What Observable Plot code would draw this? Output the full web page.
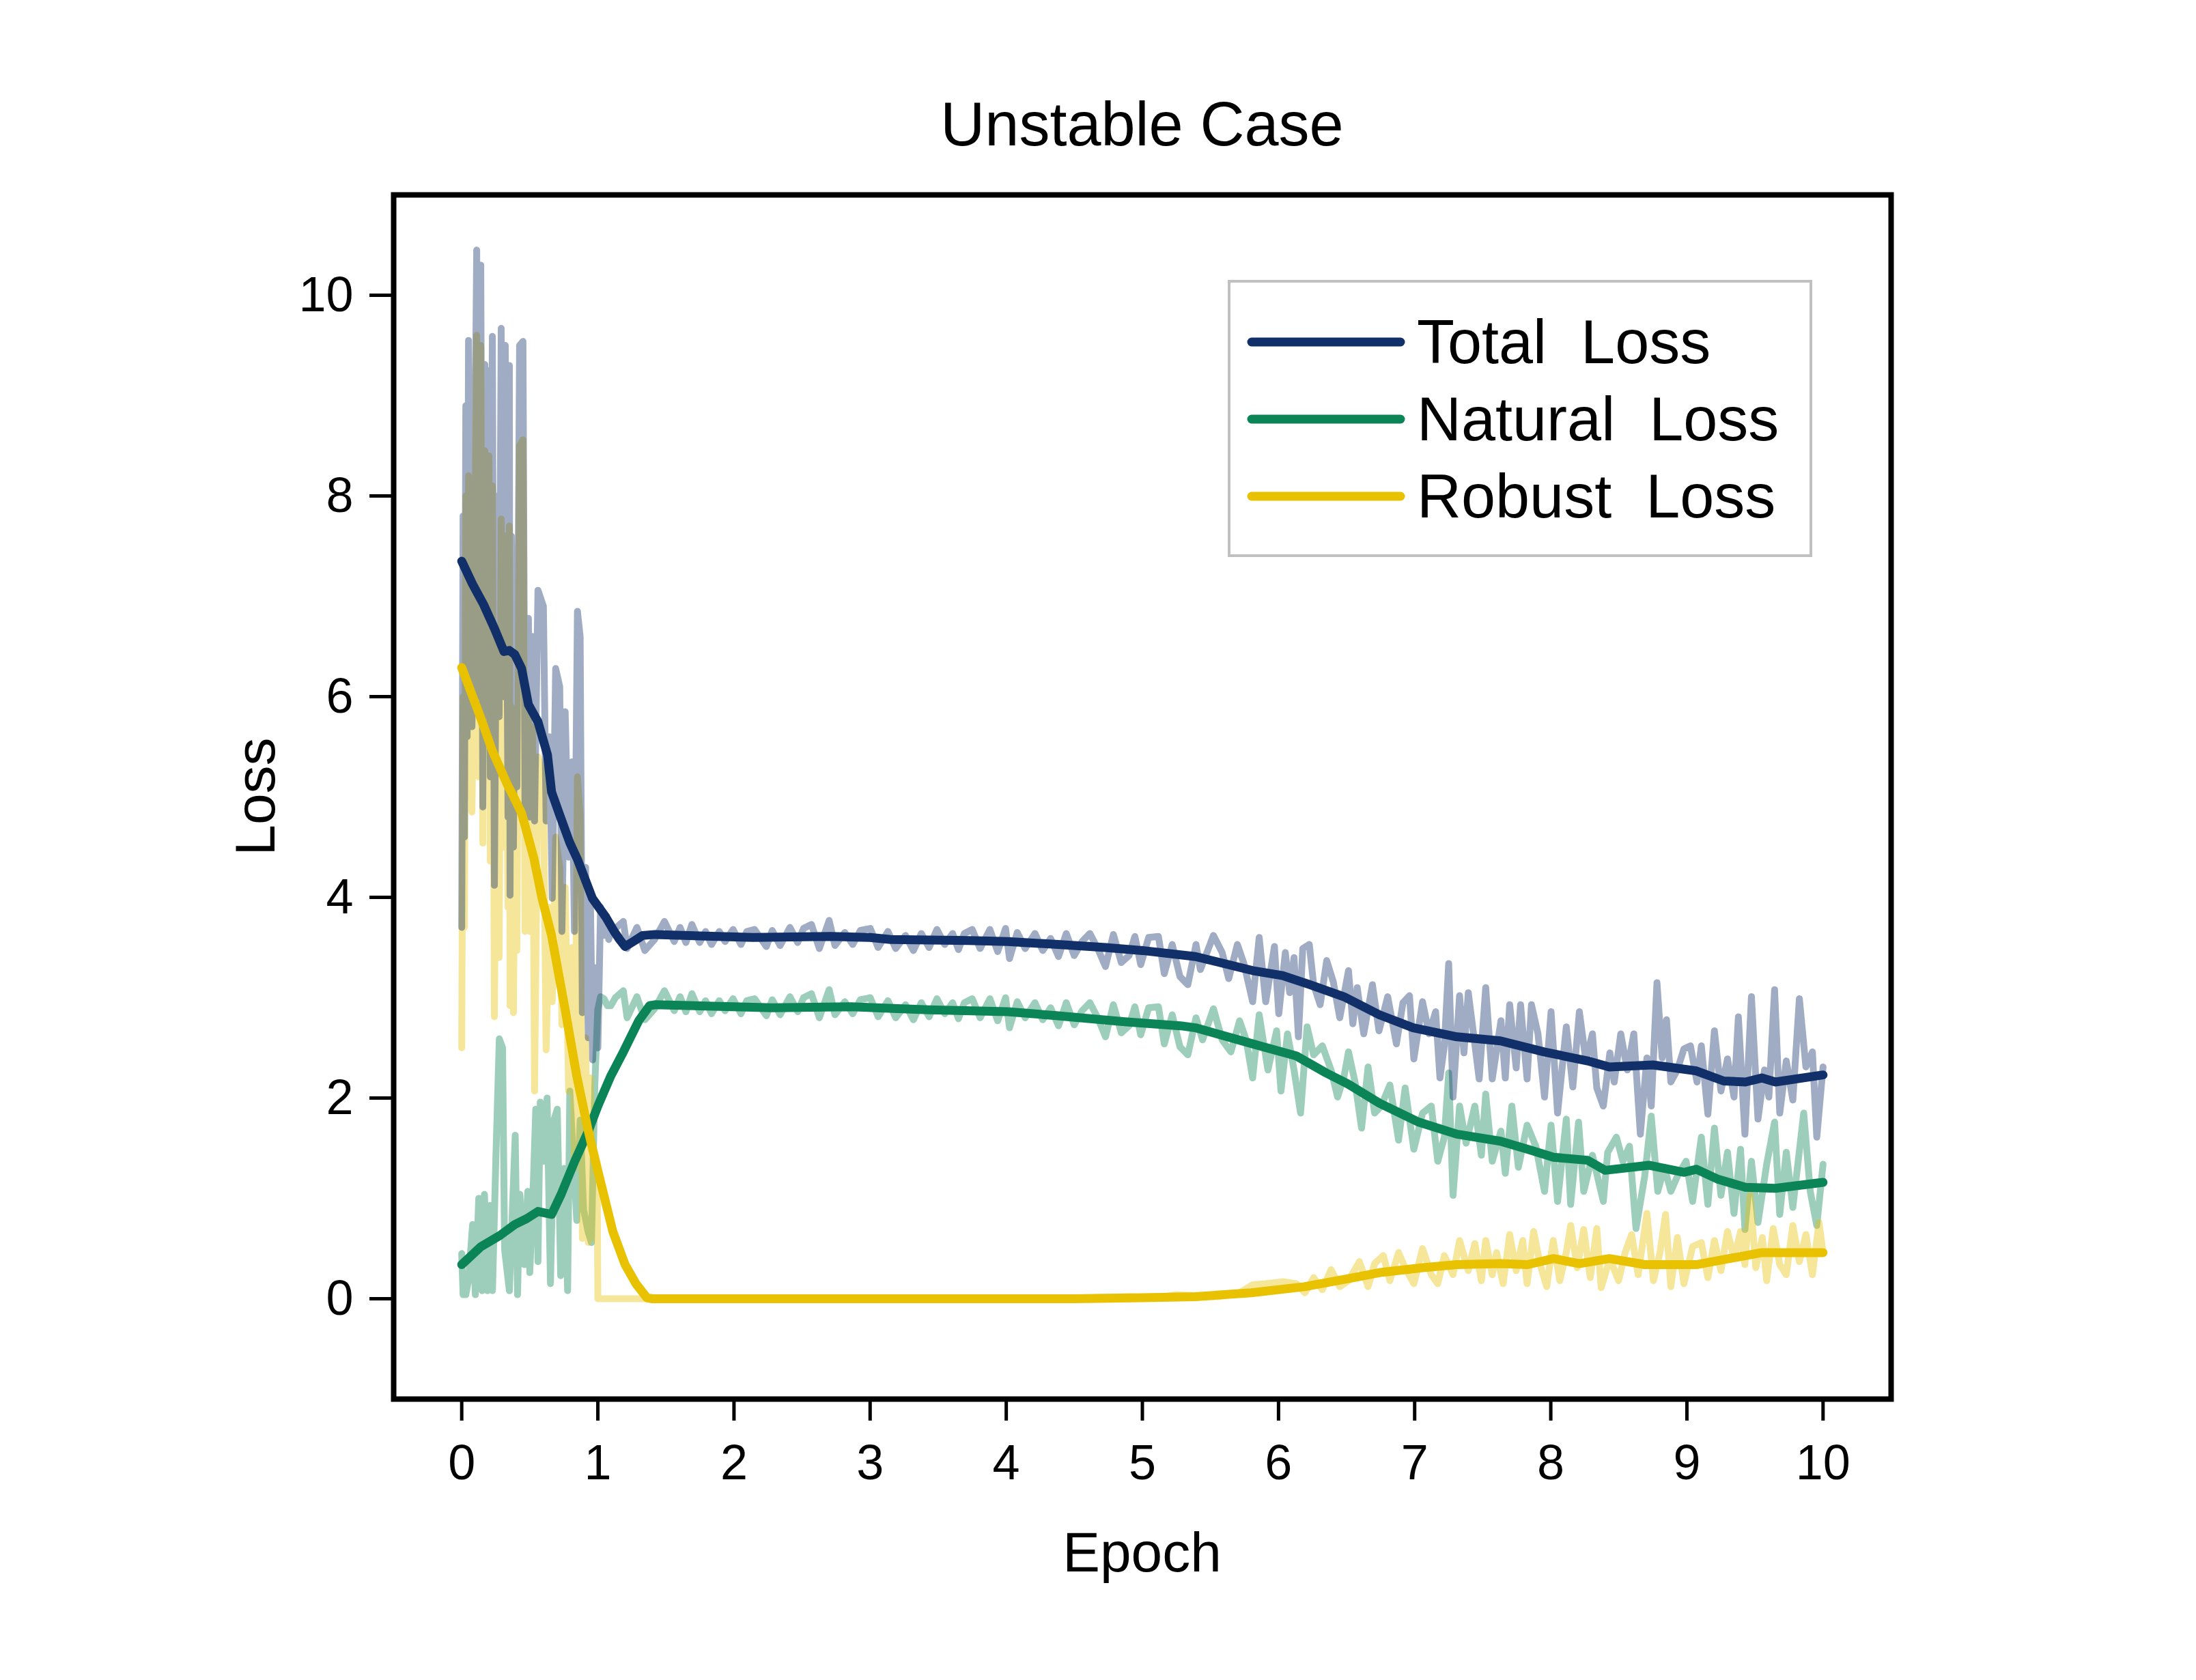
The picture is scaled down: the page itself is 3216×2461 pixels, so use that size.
<!DOCTYPE html>
<html>
<head>
<meta charset="utf-8">
<script src="https://cdn.jsdelivr.net/npm/d3@7"></script>
<script src="https://cdn.jsdelivr.net/npm/@observablehq/plot@0.6"></script>
<style>
  html, body { margin: 0; padding: 0; background: #ffffff; }
  svg text { font-family: "Liberation Sans", Arial, sans-serif; }
</style>
</head>
<body>
<div id="chart"></div>
<script>
// ---- chart data ----
const chartTitle = "Unstable Case";
const xLabel = "Epoch";
const yLabel = "Loss";
const xTicks = [0, 1, 2, 3, 4, 5, 6, 7, 8, 9, 10];
const yTicks = [0, 2, 4, 6, 8, 10];
const seriesNames = ["Total  Loss", "Natural  Loss", "Robust  Loss"];
const seriesColors = ["#11306a", "#0b8457", "#e8c100"];

// smoothed curves [epoch, loss]
const smoothTotal = [[0,7.35],[0.08,7.12],[0.16,6.92],[0.24,6.68],[0.31,6.45],[0.35,6.46],[0.39,6.42],[0.44,6.28],[0.49,5.92],[0.56,5.75],[0.63,5.42],[0.66,5.05],[0.72,4.82],[0.795,4.54],[0.85,4.38],[0.895,4.22],[0.96,3.99],[1.06,3.80],[1.12,3.66],[1.16,3.58],[1.20,3.51],[1.26,3.56],[1.33,3.62],[1.42,3.63],[2.14,3.60],[2.71,3.61],[3.0,3.60],[3.15,3.58],[3.72,3.57],[4.01,3.56],[4.38,3.53],[4.73,3.50],[5.0,3.47],[5.39,3.41],[5.81,3.27],[6.03,3.22],[6.23,3.13],[6.48,3.01],[6.74,2.83],[6.99,2.70],[7.31,2.61],[7.63,2.57],[7.95,2.46],[8.27,2.37],[8.43,2.31],[8.75,2.33],[9.07,2.27],[9.27,2.17],[9.43,2.16],[9.55,2.20],[9.65,2.16],[10.0,2.23]];
const smoothNatural = [[0,0.34],[0.142,0.52],[0.28,0.63],[0.39,0.74],[0.48,0.80],[0.56,0.87],[0.66,0.84],[0.73,1.04],[0.83,1.37],[0.93,1.67],[1.0,1.92],[1.095,2.22],[1.18,2.44],[1.30,2.77],[1.38,2.92],[1.42,2.93],[2.28,2.90],[2.86,2.91],[3.43,2.88],[4.01,2.86],[4.38,2.82],[4.87,2.76],[5.28,2.72],[5.39,2.70],[5.81,2.54],[6.13,2.42],[6.35,2.25],[6.51,2.14],[6.74,1.95],[7.03,1.76],[7.31,1.64],[7.63,1.57],[7.83,1.49],[8.02,1.41],[8.27,1.38],[8.40,1.28],[8.72,1.33],[8.98,1.26],[9.07,1.29],[9.23,1.19],[9.43,1.11],[9.65,1.10],[10.0,1.16]];
const smoothRobust = [[0,6.29],[0.142,5.78],[0.225,5.46],[0.34,5.11],[0.36,5.06],[0.44,4.84],[0.53,4.39],[0.59,3.99],[0.66,3.62],[0.76,2.88],[0.845,2.22],[0.93,1.67],[1.01,1.22],[1.11,0.67],[1.20,0.34],[1.28,0.15],[1.36,0.01],[1.4,0],[4.5,0],[5.0,0.01],[5.39,0.02],[5.8,0.06],[6.19,0.12],[6.51,0.20],[6.74,0.26],[7.06,0.31],[7.31,0.34],[7.63,0.35],[7.83,0.34],[8.02,0.40],[8.21,0.35],[8.43,0.40],[8.69,0.34],[9.07,0.34],[9.23,0.38],[9.55,0.46],[10,0.46]];

// raw (unsmoothed) curves [epoch, loss]
const rawTotal = [[0,3.7],[0.01,7.8],[0.02,4.6],[0.03,8.9],[0.04,5.6],[0.05,9.55],[0.06,7.6],[0.075,5.7],[0.09,7.4],[0.11,10.45],[0.125,6.0],[0.14,10.3],[0.155,4.9],[0.17,9.31],[0.185,7.0],[0.20,9.25],[0.21,5.2],[0.225,9.59],[0.24,4.12],[0.26,8.0],[0.275,5.8],[0.29,9.67],[0.305,6.0],[0.32,9.5],[0.34,4.8],[0.35,9.3],[0.355,4.02],[0.365,7.6],[0.38,4.5],[0.39,6.67],[0.405,5.1],[0.425,9.5],[0.45,9.54],[0.465,4.8],[0.49,6.78],[0.50,4.8],[0.52,6.6],[0.535,4.76],[0.56,7.06],[0.60,6.9],[0.62,4.76],[0.645,5.6],[0.665,3.99],[0.69,6.28],[0.72,6.1],[0.736,3.66],[0.76,5.85],[0.785,4.4],[0.81,5.35],[0.828,3.66],[0.85,6.85],[0.87,6.6],[0.886,2.85],[0.91,4.3],[0.93,2.6],[0.945,4.0],[0.962,2.38],[0.98,3.3],[1.0,2.5],[1.02,3.9],[1.04,3.62],[1.06,3.74],[1.08,3.58],[1.10,3.7],
[1.129,3.69],[1.187,3.76],[1.215,3.49],[1.287,3.70],[1.345,3.47],[1.417,3.58],[1.489,3.76],[1.561,3.56],[1.604,3.70],[1.647,3.55],[1.691,3.73],[1.748,3.55],[1.791,3.66],[1.835,3.53],[1.892,3.66],[1.935,3.56],[1.993,3.68],[2.051,3.53],[2.094,3.66],[2.151,3.68],[2.238,3.51],[2.281,3.67],[2.339,3.52],[2.411,3.70],[2.468,3.55],[2.511,3.69],[2.569,3.73],[2.627,3.49],[2.699,3.77],[2.742,3.52],[2.814,3.65],[2.872,3.53],[2.929,3.67],[3.001,3.69],[3.059,3.50],[3.131,3.66],[3.188,3.49],[3.260,3.62],[3.318,3.47],[3.376,3.64],[3.433,3.50],[3.491,3.68],[3.548,3.53],[3.606,3.64],[3.649,3.48],[3.692,3.64],[3.750,3.68],[3.808,3.49],[3.880,3.68],[3.937,3.46],[3.995,3.69],[4.024,3.39],[4.081,3.65],[4.139,3.49],[4.211,3.64],[4.268,3.47],[4.326,3.59],[4.384,3.41],[4.441,3.64],[4.499,3.42],[4.557,3.56],[4.614,3.64],[4.672,3.49],[4.729,3.31],[4.787,3.63],[4.845,3.35],[4.902,3.42],[4.945,3.61],[4.988,3.33],[5.046,3.60],[5.118,3.61],[5.161,3.24],[5.219,3.53],[5.276,3.21],[5.334,3.13],
[5.394,3.53],[5.426,3.28],[5.522,3.62],[5.586,3.45],[5.634,3.19],[5.698,3.53],[5.746,3.34],[5.810,2.96],[5.858,3.60],[5.906,2.96],[5.970,3.51],[6.002,2.84],[6.050,3.45],[6.082,3.05],[6.114,3.40],[6.146,2.61],[6.178,3.49],[6.226,3.53],[6.258,3.13],[6.306,2.93],[6.354,3.37],[6.402,3.16],[6.450,2.80],[6.514,3.27],[6.546,2.74],[6.578,3.10],[6.626,2.64],[6.690,3.13],[6.738,2.67],[6.802,3.01],[6.866,2.54],[6.914,2.95],[6.962,3.02],[6.994,2.39],[7.058,2.96],[7.106,2.64],[7.154,2.86],[7.186,2.20],[7.218,2.52],[7.250,3.34],[7.282,2.01],[7.330,3.02],[7.362,2.45],[7.394,3.05],[7.426,2.71],[7.474,2.19],[7.522,3.10],[7.570,2.19],[7.634,2.77],[7.666,2.20],[7.698,2.93],[7.746,2.30],[7.778,2.93],[7.826,2.19],[7.858,2.93],[7.906,2.64],[7.954,2.01],[8.002,2.86],[8.050,1.85],[8.114,2.71],[8.162,2.11],[8.210,2.86],[8.258,2.37],[8.306,2.64],[8.338,2.10],[8.386,1.92],[8.434,2.45],[8.466,2.16],[8.514,2.64],[8.562,2.28],[8.610,2.64],[8.658,1.64],[8.706,2.40],[8.738,1.92],[8.780,3.15],[8.818,2.40],[8.850,2.78],[8.882,2.16],[8.930,2.28],[8.978,2.49],[9.026,2.52],[9.074,2.16],[9.106,2.52],[9.154,1.84],[9.202,2.67],[9.250,2.07],[9.298,2.39],[9.346,2.01],[9.378,2.81],[9.426,1.64],[9.474,3.01],[9.522,1.79],[9.570,2.28],[9.602,2.01],[9.644,3.08],[9.682,1.85],[9.730,2.37],[9.778,1.98],[9.826,2.99],[9.874,2.31],[9.922,2.46],[9.954,1.61],[10.0,2.31]];

const rawNatural = [[0,0.45],[0.01,0.04],[0.03,0.04],[0.05,0.19],[0.08,0.74],[0.10,0.04],[0.125,1.0],[0.15,0.08],[0.167,1.04],[0.19,0.08],[0.209,0.93],[0.226,0.08],[0.251,1.41],[0.276,2.59],[0.30,2.5],[0.315,0.49],[0.35,0.08],[0.393,1.63],[0.41,0.04],[0.427,1.04],[0.46,0.34],[0.485,1.07],[0.50,0.26],[0.527,1.19],[0.544,1.89],[0.56,0.37],[0.577,1.96],[0.602,1.37],[0.627,2.0],[0.652,0.15],[0.677,1.78],[0.702,1.89],[0.727,0.23],[0.753,1.3],[0.778,0.08],[0.794,2.07],[0.82,1.41],[0.845,0.78],[0.87,1.78],[0.895,0.89],[0.928,0.67],[0.953,0.56],[0.978,2.14],[0.999,2.88],[1.02,3.01],[1.045,2.99],[1.07,2.92],[1.095,2.92],[1.129,3.0],
[1.187,3.07],[1.215,2.80],[1.287,3.01],[1.345,2.78],[1.417,2.89],[1.489,3.07],[1.561,2.87],[1.604,3.01],[1.647,2.86],[1.691,3.04],[1.748,2.86],[1.791,2.97],[1.835,2.84],[1.892,2.97],[1.935,2.87],[1.993,2.99],[2.051,2.84],[2.094,2.97],[2.151,2.99],[2.238,2.82],[2.281,2.98],[2.339,2.83],[2.411,3.01],[2.468,2.86],[2.511,3.00],[2.569,3.04],[2.627,2.80],[2.699,3.08],[2.742,2.83],[2.814,2.96],[2.872,2.84],[2.929,2.98],[3.001,3.00],[3.059,2.81],[3.131,2.97],[3.188,2.80],[3.260,2.93],[3.318,2.78],[3.376,2.95],[3.433,2.81],[3.491,2.99],[3.548,2.84],[3.606,2.95],[3.649,2.79],[3.692,2.95],[3.750,2.99],[3.808,2.80],[3.880,2.99],[3.937,2.77],[3.995,3.00],[4.024,2.70],[4.081,2.96],[4.139,2.80],[4.211,2.95],[4.268,2.78],[4.326,2.90],[4.384,2.72],[4.441,2.95],[4.499,2.73],[4.557,2.87],[4.614,2.95],[4.672,2.80],[4.729,2.61],[4.787,2.93],[4.845,2.65],[4.902,2.72],[4.945,2.91],[4.988,2.63],[5.046,2.90],[5.118,2.91],[5.161,2.54],[5.219,2.83],[5.276,2.51],[5.334,2.43],
[5.394,2.80],[5.442,2.58],[5.522,2.89],[5.586,2.58],[5.650,2.46],[5.714,2.77],[5.762,2.58],[5.810,2.20],[5.858,2.83],[5.922,2.28],[5.986,2.67],[6.018,2.07],[6.066,2.64],[6.114,2.28],[6.162,1.85],[6.210,2.71],[6.258,2.43],[6.322,2.52],[6.386,2.28],[6.434,2.01],[6.482,2.22],[6.514,2.46],[6.562,2.16],[6.610,1.70],[6.658,2.31],[6.706,1.85],[6.754,1.92],[6.818,2.13],[6.882,1.58],[6.930,2.10],[6.994,1.49],[7.058,1.85],[7.122,1.92],[7.170,1.37],[7.218,1.61],[7.250,2.25],[7.282,1.03],[7.330,1.92],[7.378,1.55],[7.442,1.92],[7.490,1.43],[7.522,2.04],[7.570,1.37],[7.634,1.67],[7.666,1.25],[7.714,1.92],[7.762,1.31],[7.826,1.73],[7.890,1.52],[7.954,1.07],[8.002,1.73],[8.050,0.97],[8.114,1.79],[8.146,0.94],[8.204,1.76],[8.242,1.07],[8.306,1.43],[8.386,0.97],[8.418,1.46],[8.482,1.61],[8.530,1.37],[8.578,1.52],[8.626,0.70],[8.690,1.22],[8.738,1.82],[8.786,1.07],[8.834,1.31],[8.882,1.07],[8.930,1.22],[8.994,1.37],[9.042,0.97],[9.106,1.61],[9.154,0.94],[9.202,1.70],[9.250,1.03],[9.298,1.46],[9.346,0.85],[9.394,1.49],[9.426,0.69],[9.474,1.37],[9.522,0.76],[9.586,1.34],[9.644,1.76],[9.682,0.84],[9.730,1.46],[9.778,0.91],[9.858,1.85],[9.906,1.07],[9.954,0.73],[10.0,1.34]];

const rawRobust = [[0,2.5],[0.01,6.0],[0.02,3.7],[0.03,8.0],[0.04,5.0],[0.05,8.2],[0.06,6.5],[0.075,4.85],[0.09,6.5],[0.11,9.6],[0.125,5.2],[0.14,9.5],[0.155,4.54],[0.17,8.45],[0.185,6.4],[0.20,8.4],[0.21,4.36],[0.225,8.1],[0.24,2.81],[0.26,6.5],[0.275,3.4],[0.29,7.77],[0.305,4.5],[0.32,7.6],[0.34,3.9],[0.35,7.7],[0.355,2.92],[0.365,5.9],[0.38,2.85],[0.39,4.9],[0.405,3.47],[0.425,8.5],[0.45,8.56],[0.465,3.66],[0.49,5.9],[0.50,3.66],[0.52,5.7],[0.535,2.07],[0.56,5.4],[0.60,5.2],[0.62,2.48],[0.645,3.9],[0.665,2.96],[0.69,4.6],[0.72,4.3],[0.736,2.73],[0.76,4.1],[0.785,2.07],[0.81,3.5],[0.828,1.3],[0.85,5.2],[0.87,4.8],[0.886,0.6],[0.91,2.6],[0.93,0.56],[0.945,2.2],[0.962,0.6],[0.98,1.3],[0.995,1.2],[1.0,0],[4.3,0],[4.6,0.01],[4.9,0.02],[5.1,0.01],[5.25,0.04],
[5.394,0.03],[5.554,0.02],[5.714,0.06],[5.810,0.14],[5.906,0.15],[6.034,0.17],[6.130,0.15],[6.194,0.06],[6.258,0.21],[6.322,0.09],[6.386,0.29],[6.450,0.12],[6.514,0.18],[6.594,0.37],[6.658,0.12],[6.706,0.35],[6.770,0.43],[6.818,0.18],[6.882,0.46],[6.930,0.31],[6.994,0.15],[7.058,0.50],[7.122,0.24],[7.170,0.15],[7.218,0.43],[7.282,0.24],[7.330,0.58],[7.394,0.28],[7.442,0.55],[7.490,0.18],[7.522,0.58],[7.570,0.24],[7.602,0.46],[7.650,0.15],[7.698,0.64],[7.746,0.28],[7.794,0.58],[7.826,0.15],[7.874,0.67],[7.922,0.34],[7.970,0.12],[8.018,0.58],[8.066,0.18],[8.114,0.46],[8.146,0.73],[8.194,0.31],[8.242,0.69],[8.290,0.21],[8.338,0.70],[8.370,0.11],[8.434,0.40],[8.498,0.18],[8.546,0.46],[8.594,0.64],[8.642,0.24],[8.706,0.85],[8.754,0.18],[8.802,0.46],[8.843,0.84],[8.882,0.12],[8.930,0.61],[8.978,0.15],[9.042,0.52],[9.106,0.56],[9.154,0.21],[9.202,0.58],[9.250,0.28],[9.298,0.67],[9.346,0.40],[9.394,0.67],[9.426,0.34],[9.464,1.03],[9.506,0.31],[9.554,0.61],[9.586,0.18],[9.634,0.70],[9.682,0.34],[9.730,0.24],[9.778,0.73],[9.826,0.37],[9.874,0.64],[9.922,0.24],[9.970,0.76],[10.0,0.46]];

// ---- drawing ----
const W = 3216, H = 2461;
const font = '"Liberation Sans", Arial, sans-serif';
const px = d => d[0], py = d => d[1];
const rawLine = (data, color) => Plot.line(data, {x: px, y: py, stroke: color, strokeOpacity: 0.4, strokeWidth: 10, strokeLinejoin: "round", strokeLinecap: "round"});
const smoothLine = (data, color) => Plot.line(data, {x: px, y: py, stroke: color, strokeWidth: 13, strokeLinejoin: "round", strokeLinecap: "round"});

const chart = Plot.plot({
  width: W,
  height: H,
  marginLeft: 576,
  marginRight: 447,
  marginTop: 285,
  marginBottom: 412,
  style: {fontFamily: font, background: "#ffffff", color: "#000000"},
  x: {domain: [-0.5, 10.5]},
  y: {domain: [-1, 11]},
  marks: [
    rawLine(rawNatural, seriesColors[1]),
    rawLine(rawRobust, seriesColors[2]),
    rawLine(rawTotal, seriesColors[0]),
    smoothLine(smoothNatural, seriesColors[1]),
    smoothLine(smoothRobust, seriesColors[2]),
    smoothLine(smoothTotal, seriesColors[0]),
    Plot.frame({stroke: "#000000", strokeWidth: 8}),
    Plot.axisX({ticks: xTicks, tickSize: 32, tickPadding: 34, strokeWidth: 5, fontSize: 72, label: null, tickFormat: d => String(d)}),
    Plot.axisY({ticks: yTicks, tickSize: 35, tickPadding: 24, strokeWidth: 5, fontSize: 72, label: null, tickFormat: d => String(d)})
  ]
});
document.getElementById("chart").appendChild(chart);

// titles and legend
const svg = d3.select(chart);
const cx = (576 + (W - 447)) / 2;
svg.append("text").attr("x", cx).attr("y", 213).attr("text-anchor", "middle")
  .attr("font-size", 90).attr("fill", "#000").style("font-family", font).text(chartTitle);
svg.append("text").attr("x", cx).attr("y", 2302).attr("text-anchor", "middle")
  .attr("font-size", 82).attr("fill", "#000").style("font-family", font).text(xLabel);
svg.append("text").attr("transform", `translate(402,${(285 + 2049) / 2}) rotate(-90)`).attr("text-anchor", "middle")
  .attr("font-size", 82).attr("fill", "#000").style("font-family", font).text(yLabel);

const lg = svg.append("g").attr("text-anchor", "start");
lg.append("rect").attr("x", 1800).attr("y", 412).attr("width", 852).attr("height", 402)
  .attr("fill", "#ffffff").attr("stroke", "#c0c0c0").attr("stroke-width", 4);
seriesNames.forEach((name, i) => {
  const y = 501 + i * 113;
  lg.append("line").attr("x1", 1833).attr("x2", 2051).attr("y1", y).attr("y2", y)
    .attr("stroke", seriesColors[i]).attr("stroke-width", 13).attr("stroke-linecap", "round");
  lg.append("text").attr("x", 2075).attr("y", y + 31).attr("text-anchor", "start").attr("font-size", 90).attr("fill", "#000")
    .style("font-family", font).style("white-space", "pre").text(name);
});
</script>
</body>
</html>
